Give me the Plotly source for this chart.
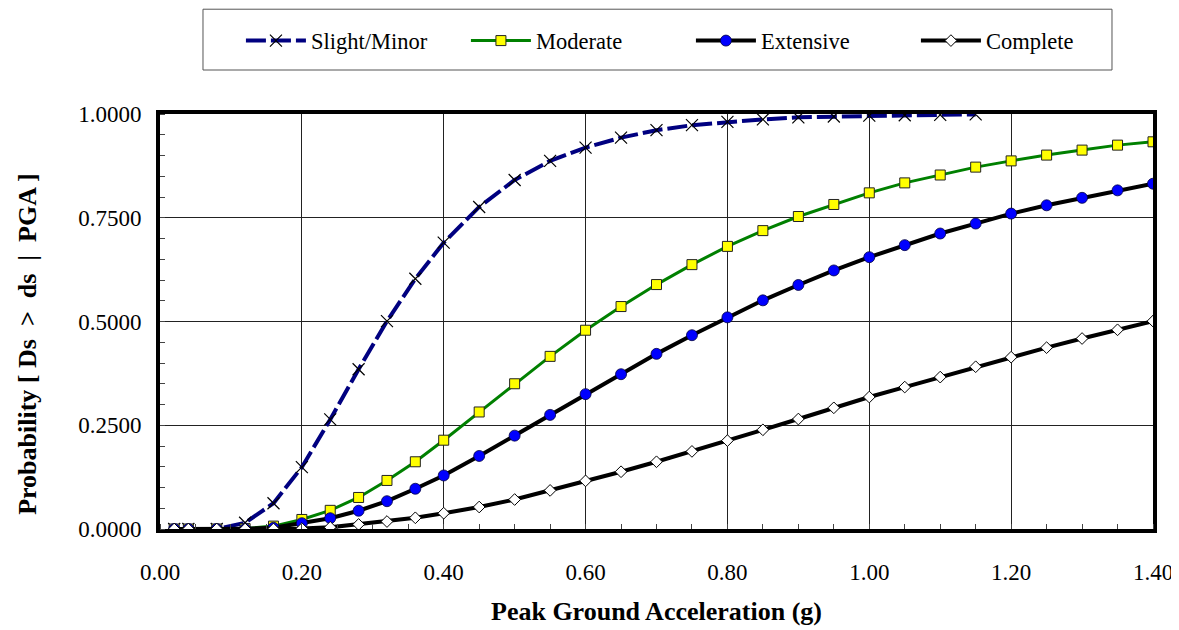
import plotly.graph_objects as go

pga = [0.02, 0.04, 0.08, 0.12, 0.16, 0.20, 0.24, 0.28, 0.32, 0.36, 0.40, 0.45,
       0.50, 0.55, 0.60, 0.65, 0.70, 0.75, 0.80, 0.85, 0.90, 0.95, 1.00, 1.05,
       1.10, 1.15, 1.20, 1.25, 1.30, 1.35, 1.40]

slight = [0.0, 0.0, 0.0, 0.015, 0.062, 0.149, 0.264, 0.385, 0.501, 0.603, 0.690, 0.776,
          0.841, 0.887, 0.919, 0.943, 0.961, 0.973, 0.981, 0.987, 0.992, 0.994, 0.996, 0.997,
          0.998, 0.999]
moderate = [0.0, 0.0, 0.0, 0.001, 0.007, 0.023, 0.045, 0.076, 0.117, 0.162, 0.214, 0.282,
            0.350, 0.416, 0.479, 0.536, 0.589, 0.637, 0.681, 0.719, 0.753, 0.782, 0.810, 0.834,
            0.853, 0.872, 0.887, 0.901, 0.913, 0.925, 0.933]
extensive = [0.0, 0.0, 0.0, 0.0, 0.003, 0.014, 0.026, 0.044, 0.067, 0.097, 0.129, 0.176,
             0.225, 0.275, 0.325, 0.373, 0.422, 0.467, 0.510, 0.551, 0.588, 0.623, 0.655, 0.684,
             0.712, 0.736, 0.760, 0.780, 0.798, 0.816, 0.832]
complete = [0.0, 0.0, 0.0, 0.0, 0.0, 0.001, 0.004, 0.011, 0.018, 0.027, 0.038, 0.053,
            0.071, 0.093, 0.116, 0.138, 0.162, 0.187, 0.213, 0.239, 0.265, 0.292, 0.318, 0.342,
            0.366, 0.391, 0.414, 0.437, 0.459, 0.480, 0.501]

names = ["Slight/Minor", "Moderate", "Extensive", "Complete"]
x_ticks = [0.0, 0.2, 0.4, 0.6, 0.8, 1.0, 1.2, 1.4]
y_ticks = [0.0, 0.25, 0.5, 0.75, 1.0]

FONT = "Liberation Serif"

fig = go.Figure()
fig.add_trace(go.Scatter(
    x=pga[:len(slight)], y=slight, name=names[0], mode="lines+markers",
    line=dict(color="#000080", width=4, dash="20px,5px"),
    marker=dict(symbol="x-thin", size=12, line=dict(color="black", width=1.2), color="black")))
fig.add_trace(go.Scatter(
    x=pga, y=moderate, name=names[1], mode="lines+markers",
    line=dict(color="#008000", width=3),
    marker=dict(symbol="square", size=10, color="#FFFF00", line=dict(color="#222222", width=1))))
fig.add_trace(go.Scatter(
    x=pga, y=extensive, name=names[2], mode="lines+markers",
    line=dict(color="black", width=4),
    marker=dict(symbol="circle", size=11, color="#0000FF", line=dict(color="#000040", width=0.8))))
fig.add_trace(go.Scatter(
    x=pga, y=complete, name=names[3], mode="lines+markers",
    line=dict(color="black", width=4),
    marker=dict(symbol="diamond", size=9, color="white", line=dict(color="black", width=1))))

fig.update_layout(
    width=1179, height=630,
    margin=dict(l=152, r=34, t=106, b=109, autoexpand=False),
    paper_bgcolor="white", plot_bgcolor="white",
    font=dict(family=FONT, color="black", size=23),
    legend=dict(
        orientation="h", x=0.0815, y=1.176, xanchor="left", yanchor="middle",
        borderwidth=0, bgcolor="rgba(0,0,0,0)",
        font=dict(family=FONT, size=22.5), itemwidth=60,
        entrywidth=150, entrywidthmode="pixels"),
    shapes=[dict(type="rect", xref="paper", yref="paper",
                 x0=0.0433, x1=0.9587, y0=1.106, y1=1.2525,
                 line=dict(color="#555555", width=1), fillcolor="white", layer="below")],
    xaxis=dict(
        range=[0, 1.4], tickvals=x_ticks, ticktext=[f"{v:.2f}" for v in x_ticks],
        showgrid=True, gridcolor="#222222", gridwidth=1,
        showline=True, linecolor="black", linewidth=4, mirror=True,
        ticks="", ticklabelstandoff=19, zeroline=False,
        tickfont=dict(family=FONT, size=23),
        minor=dict(dtick=0.05, tick0=0, ticks="inside", ticklen=5, tickcolor="#444444", showgrid=False),
        title=dict(text="<b>Peak Ground Acceleration (g)</b>", font=dict(family=FONT, size=26), standoff=19)),
    yaxis=dict(
        range=[0, 1.0], tickvals=y_ticks, ticktext=[f"{v:.4f}" for v in y_ticks],
        showgrid=True, gridcolor="#222222", gridwidth=1,
        showline=True, linecolor="black", linewidth=4, mirror=True,
        ticks="", ticklabelstandoff=10, zeroline=False,
        tickfont=dict(family=FONT, size=23),
        minor=dict(dtick=0.05, tick0=0, ticks="inside", ticklen=5, tickcolor="#444444", showgrid=False)),
    annotations=[dict(
        text="<b>Probability [ Ds  &gt;  ds  |  PGA ]</b>", textangle=-90,
        xref="paper", yref="paper", x=-0.133, y=0.446, xanchor="center", yanchor="middle",
        showarrow=False, font=dict(family=FONT, size=26))],
)

fig.write_html("out.html")
